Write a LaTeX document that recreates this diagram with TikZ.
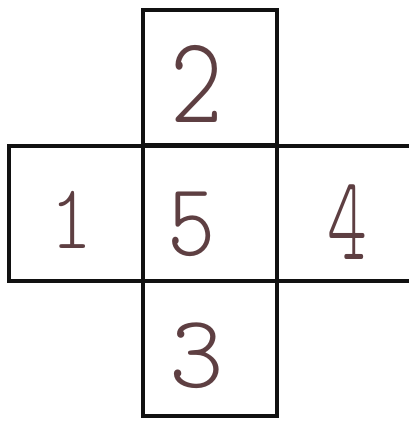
\documentclass[tikz,border=0pt]{standalone}
\usepackage{fontspec}
\definecolor{ink}{HTML}{111111}
\definecolor{pen}{HTML}{5E3F42}
\begin{document}
\begin{tikzpicture}[x=1pt,y=-1pt,
  cell/.style={draw=ink,line width=4.6pt,outer sep=0pt,minimum width=134pt,minimum height=135pt,inner sep=0pt,anchor=north west},
  digit/.style={text=pen,transform shape,font=\fontsize{80}{80}\ttfamily\fontseries{l}\selectfont}]
\useasboundingbox (0,0) rectangle (408,421);
\fill[white] (0,0) rectangle (408,421);
\node[cell] (top) at (143,10) {};
\node[cell] (mid) at (143,146) {};
\node[cell] (left) at (9,146) {};
\node[cell] (bot) at (143,281) {};
\coordinate (r1) at (410,146);
\coordinate (r2) at (410,281);
\draw[ink,line width=4.6pt] (r1) -- (mid.north east) -- (mid.south east) -- (r2);
\node[digit,xscale=1.25,yscale=1.55] (d2) at (197,84) {2};
\node[digit,yscale=1.15] (d1) at (71,220) {1};
\node[digit,xscale=1.15,yscale=1.3] (d5) at (192,224) {5};
\node[digit,xscale=0.95,yscale=1.5] (d4) at (347,222) {4};
\node[digit,xscale=1.3,yscale=1.3] (d3) at (197,356) {3};
\end{tikzpicture}
\end{document}
